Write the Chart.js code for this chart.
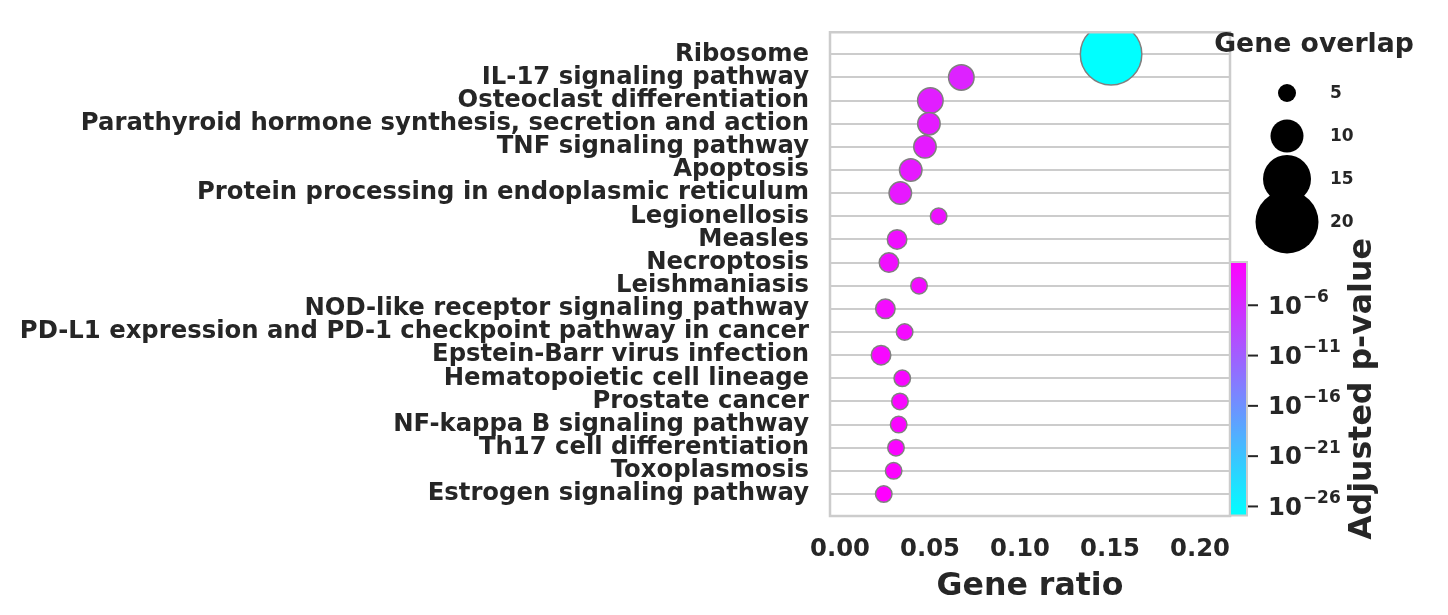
<!DOCTYPE html>
<html>
<head>
<meta charset="utf-8">
<script src="https://cdn.jsdelivr.net/npm/chart.js@4.4.1/dist/chart.umd.min.js"></script>
<style>
  body { margin: 0; background: #fff; }
  #wrap { width: 1448px; height: 615px; }
</style>
</head>
<body>
<div id="wrap"><canvas id="grafico" width="1448" height="615"></canvas></div>
<script>
// dados
const pathways = [
  'Ribosome', 'IL-17 signaling pathway', 'Osteoclast differentiation',
  'Parathyroid hormone synthesis, secretion and action', 'TNF signaling pathway',
  'Apoptosis', 'Protein processing in endoplasmic reticulum', 'Legionellosis',
  'Measles', 'Necroptosis', 'Leishmaniasis', 'NOD-like receptor signaling pathway',
  'PD-L1 expression and PD-1 checkpoint pathway in cancer', 'Epstein-Barr virus infection',
  'Hematopoietic cell lineage', 'Prostate cancer', 'NF-kappa B signaling pathway',
  'Th17 cell differentiation', 'Toxoplasmosis', 'Estrogen signaling pathway'
];
const geneRatio = [0.1506, 0.0674, 0.0502, 0.0494, 0.0472, 0.0393, 0.0335, 0.0548, 0.0317, 0.0272,
  0.0439, 0.0252, 0.0359, 0.0228, 0.0346, 0.0333, 0.0326, 0.0311, 0.0298, 0.0243];
const geneOverlap = [20, 8, 8, 7, 7, 7, 7, 5, 6, 6, 5, 6, 5, 6, 5, 5, 5, 5, 5, 5];
const adjP = [1.26e-27, 8.9e-6, 2.0e-5, 4.0e-5, 5.0e-5, 7.0e-5, 9.0e-5, 4e-4, 6e-4, 9e-4,
  1.2e-3, 1.6e-3, 2.2e-3, 3e-3, 4e-3, 5.5e-3, 7e-3, 9e-3, 1.2e-2, 2.0e-2];
const xTicks = [0, 0.05, 0.10, 0.15, 0.20];
const sizeLegend = [5, 10, 15, 20];
const cbarExps = [-6, -11, -16, -21, -26];

const textColor = '#262626';
const fontFam = "'DejaVu Sans', sans-serif";
const tickSize = 24.3;

// escala de cor (log) igual ao mapa "cool"
const logMin = Math.log10(Math.min(...adjP));
const logMax = Math.log10(Math.max(...adjP));
function corCool(t) {
  t = Math.max(0, Math.min(1, t));
  return `rgb(${Math.round(255 * t)}, ${Math.round(255 * (1 - t))}, 255)`;
}
function corP(p) {
  return corCool((Math.log10(p) - logMin) / (logMax - logMin));
}
function raio(n) {
  return 1.5 * n + 1.5;
}

const pontos = geneRatio.map((v, i) => ({ x: v, y: i }));

// moldura, barra de cor e legenda de tamanho
const extras = {
  id: 'extras',
  afterDatasetsDraw(chart) {
    const ctx = chart.ctx;
    const a = chart.chartArea;
    ctx.save();
    ctx.strokeStyle = '#cccccc';
    ctx.lineWidth = 2.5;
    ctx.strokeRect(a.left, a.top, a.right - a.left, a.bottom - a.top);

    // barra de cor
    const cx0 = 1230, cx1 = 1247, cy0 = 262, cy1 = 515.5;
    const grad = ctx.createLinearGradient(0, cy1, 0, cy0);
    for (let k = 0; k <= 10; k++) grad.addColorStop(k / 10, corCool(k / 10));
    ctx.fillStyle = grad;
    ctx.fillRect(cx0, cy0, cx1 - cx0, cy1 - cy0);
    ctx.strokeStyle = '#cccccc';
    ctx.lineWidth = 2;
    ctx.strokeRect(cx0, cy0, cx1 - cx0, cy1 - cy0);

    ctx.fillStyle = textColor;
    ctx.strokeStyle = textColor;
    cbarExps.forEach(e => {
      const y = cy1 - (e - logMin) / (logMax - logMin) * (cy1 - cy0);
      ctx.lineWidth = 2;
      ctx.beginPath();
      ctx.moveTo(cx1 + 1, y);
      ctx.lineTo(cx1 + 11, y);
      ctx.stroke();
      ctx.textBaseline = 'middle';
      ctx.textAlign = 'left';
      ctx.font = `bold ${tickSize}px ${fontFam}`;
      ctx.fillText('10', 1268, y + 2);
      const w = ctx.measureText('10').width;
      ctx.font = `bold 17px ${fontFam}`;
      ctx.fillText('\u2212' + Math.abs(e), 1268 + w + 1, y - 8);
    });

    // título da barra de cor
    ctx.save();
    ctx.translate(1363, 389);
    ctx.rotate(-Math.PI / 2);
    ctx.font = `bold 31.6px ${fontFam}`;
    ctx.textAlign = 'center';
    ctx.textBaseline = 'middle';
    ctx.fillText('Adjusted p-value', 0, 0);
    ctx.restore();

    // legenda de tamanho
    ctx.font = `bold 26.7px ${fontFam}`;
    ctx.textAlign = 'center';
    ctx.textBaseline = 'middle';
    ctx.fillText('Gene overlap', 1314, 45);
    const ys = [93, 136, 179, 222];
    sizeLegend.forEach((n, i) => {
      ctx.fillStyle = '#000';
      ctx.beginPath();
      ctx.arc(1287, ys[i], raio(n), 0, Math.PI * 2);
      ctx.fill();
      ctx.fillStyle = textColor;
      ctx.font = `bold 17px ${fontFam}`;
      ctx.textAlign = 'left';
      ctx.fillText(String(n), 1330, ys[i] + 1);
    });
    ctx.restore();
  }
};

new Chart(document.getElementById('grafico').getContext('2d'), {
  type: 'scatter',
  data: {
    datasets: [{
      data: pontos,
      pointRadius: geneOverlap.map(n => raio(n) - 0.75),
      pointHoverRadius: geneOverlap.map(n => raio(n) - 0.75),
      pointBackgroundColor: adjP.map(corP),
      pointBorderColor: '#808080',
      pointBorderWidth: 1.5,
      clip: 0
    }]
  },
  options: {
    responsive: false,
    animation: false,
    devicePixelRatio: 1,
    layout: { padding: { top: 30, right: 218, bottom: 9, left: 0 } },
    plugins: { legend: { display: false }, tooltip: { enabled: false } },
    scales: {
      x: {
        type: 'linear',
        min: -0.005556,
        max: 0.216667,
        afterBuildTicks: s => { s.ticks = xTicks.map(v => ({ value: v })); },
        afterFit: s => { s.height = 90; s.paddingLeft = 0; s.paddingRight = 0; },
        grid: { display: false, drawTicks: false },
        border: { display: false },
        ticks: {
          color: textColor,
          padding: 19,
          maxRotation: 0,
          font: { family: fontFam, size: tickSize, weight: 'bold' },
          callback: v => v.toFixed(2)
        },
        title: {
          display: true,
          text: 'Gene ratio',
          color: textColor,
          font: { family: fontFam, size: 31.6, weight: 'bold' },
          padding: 0
        }
      },
      y: {
        type: 'linear',
        reverse: true,
        min: -0.95,
        max: 19.95,
        afterBuildTicks: s => { s.ticks = pathways.map((_, i) => ({ value: i })); },
        afterFit: s => { s.width = 830; s.paddingTop = 0; s.paddingBottom = 0; },
        grid: { color: '#cccccc', lineWidth: 2, drawTicks: false },
        border: { display: false },
        ticks: {
          color: textColor,
          padding: 21,
          autoSkip: false,
          font: { family: fontFam, size: tickSize, weight: 'bold' },
          callback: v => pathways[v]
        }
      }
    }
  },
  plugins: [extras]
});
</script>
</body>
</html>
